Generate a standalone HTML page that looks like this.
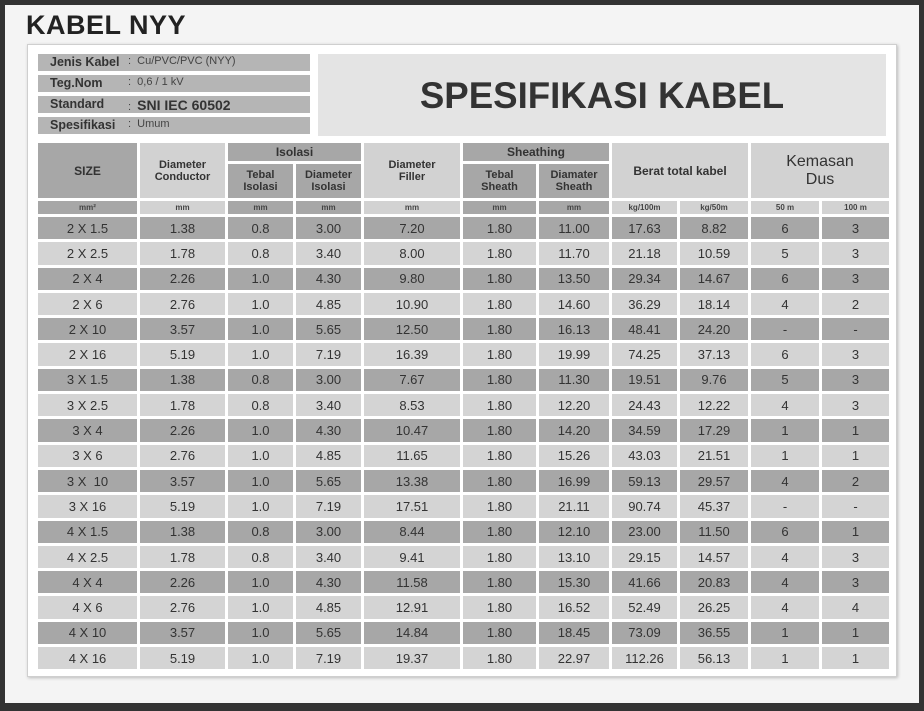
<!DOCTYPE html>
<html><head><meta charset="utf-8"><style>
*{margin:0;padding:0;box-sizing:border-box}
body{width:924px;height:711px;background:#333;font-family:"Liberation Sans",Arial,sans-serif;color:#333;position:relative;overflow:hidden}
#bg{position:absolute;left:5px;top:5px;width:914px;height:698px;background:#f4f4f4}
#panel{position:absolute;left:27px;top:44px;width:870px;height:633px;background:#fff;border:1px solid #cfcfcf;box-shadow:1px 1px 3px #bbb}
h1{position:absolute;left:26px;top:10px;font-size:27px;font-weight:bold;color:#222;letter-spacing:0.5px}
.info{position:absolute;left:38px;width:272px;height:17px;background:#b5b5b5;font-size:12px}
.info b{position:absolute;left:12px;top:1px;font-size:12.5px;color:#333}
.info span{position:absolute;left:90px;top:1px;font-size:11px;color:#444}
#title{position:absolute;left:318px;top:54px;width:568px;height:82px;background:#e4e4e4}
#title div{position:absolute;left:0;width:100%;top:21px;text-align:center;font-size:37px;font-weight:bold;color:#333;transform:scaleX(0.99)}
table{position:absolute;left:35px;top:140px;border-collapse:separate;border-spacing:3px;table-layout:fixed}
td{text-align:center;vertical-align:middle;padding:0}
.d{background:#a7a7a7}.l{background:#d2d2d2}
.hd td{font-weight:bold;font-size:11px;color:#333;line-height:12px}
.u td{font-size:8px;height:13px;font-weight:bold;color:#444}
.r td{height:22.3px;font-size:13px;color:#333}
.r.a td{background:#a7a7a7}.r.b td{background:#d4d4d4}
</style></head><body>
<div id="bg"></div>
<h1>KABEL NYY</h1>
<div id="panel"></div>
<div class="info" style="top:54px"><b>Jenis Kabel</b><span>: &nbsp;Cu/PVC/PVC (NYY)</span></div>
<div class="info" style="top:75px"><b>Teg.Nom</b><span>: &nbsp;0,6 / 1 kV</span></div>
<div class="info" style="top:96px"><b>Standard</b><span>: &nbsp;<b style="position:static;font-size:14px">SNI IEC 60502</b></span></div>
<div class="info" style="top:117px"><b>Spesifikasi</b><span>: &nbsp;Umum</span></div>
<div id="title"><div>SPESIFIKASI KABEL</div></div>
<table>
<colgroup><col style="width:99px"><col style="width:85px"><col style="width:65px"><col style="width:65px"><col style="width:96px"><col style="width:73px"><col style="width:70px"><col style="width:65px"><col style="width:68px"><col style="width:68px"><col style="width:67px"></colgroup>
<tr class="hd"><td class="d" rowspan="2" style="font-size:12px">SIZE</td><td class="l" rowspan="2">Diameter<br>Conductor</td><td class="d" colspan="2" style="height:18px;font-size:12px">Isolasi</td><td class="l" rowspan="2">Diameter<br>Filler</td><td class="d" colspan="2" style="font-size:12px">Sheathing</td><td class="l" colspan="2" rowspan="2" style="font-size:12px">Berat total kabel</td><td class="l" colspan="2" rowspan="2" style="font-size:16px;font-weight:normal;line-height:18px">Kemasan<br>Dus</td></tr>
<tr class="hd"><td class="d" style="height:34px">Tebal<br>Isolasi</td><td class="d">Diameter<br>Isolasi</td><td class="d">Tebal<br>Sheath</td><td class="d">Diamater<br>Sheath</td></tr>
<tr class="u"><td class="d">mm²</td><td class="l">mm</td><td class="d">mm</td><td class="d">mm</td><td class="l">mm</td><td class="d">mm</td><td class="d">mm</td><td class="l">kg/100m</td><td class="l">kg/50m</td><td class="l">50 m</td><td class="l">100 m</td></tr>
<tr class="r a"><td>2 X 1.5</td><td>1.38</td><td>0.8</td><td>3.00</td><td>7.20</td><td>1.80</td><td>11.00</td><td>17.63</td><td>8.82</td><td>6</td><td>3</td></tr>
<tr class="r b"><td>2 X 2.5</td><td>1.78</td><td>0.8</td><td>3.40</td><td>8.00</td><td>1.80</td><td>11.70</td><td>21.18</td><td>10.59</td><td>5</td><td>3</td></tr>
<tr class="r a"><td>2 X 4</td><td>2.26</td><td>1.0</td><td>4.30</td><td>9.80</td><td>1.80</td><td>13.50</td><td>29.34</td><td>14.67</td><td>6</td><td>3</td></tr>
<tr class="r b"><td>2 X 6</td><td>2.76</td><td>1.0</td><td>4.85</td><td>10.90</td><td>1.80</td><td>14.60</td><td>36.29</td><td>18.14</td><td>4</td><td>2</td></tr>
<tr class="r a"><td>2 X 10</td><td>3.57</td><td>1.0</td><td>5.65</td><td>12.50</td><td>1.80</td><td>16.13</td><td>48.41</td><td>24.20</td><td>-</td><td>-</td></tr>
<tr class="r b"><td>2 X 16</td><td>5.19</td><td>1.0</td><td>7.19</td><td>16.39</td><td>1.80</td><td>19.99</td><td>74.25</td><td>37.13</td><td>6</td><td>3</td></tr>
<tr class="r a"><td>3 X 1.5</td><td>1.38</td><td>0.8</td><td>3.00</td><td>7.67</td><td>1.80</td><td>11.30</td><td>19.51</td><td>9.76</td><td>5</td><td>3</td></tr>
<tr class="r b"><td>3 X 2.5</td><td>1.78</td><td>0.8</td><td>3.40</td><td>8.53</td><td>1.80</td><td>12.20</td><td>24.43</td><td>12.22</td><td>4</td><td>3</td></tr>
<tr class="r a"><td>3 X 4</td><td>2.26</td><td>1.0</td><td>4.30</td><td>10.47</td><td>1.80</td><td>14.20</td><td>34.59</td><td>17.29</td><td>1</td><td>1</td></tr>
<tr class="r b"><td>3 X 6</td><td>2.76</td><td>1.0</td><td>4.85</td><td>11.65</td><td>1.80</td><td>15.26</td><td>43.03</td><td>21.51</td><td>1</td><td>1</td></tr>
<tr class="r a"><td>3 X &nbsp;10</td><td>3.57</td><td>1.0</td><td>5.65</td><td>13.38</td><td>1.80</td><td>16.99</td><td>59.13</td><td>29.57</td><td>4</td><td>2</td></tr>
<tr class="r b"><td>3 X 16</td><td>5.19</td><td>1.0</td><td>7.19</td><td>17.51</td><td>1.80</td><td>21.11</td><td>90.74</td><td>45.37</td><td>-</td><td>-</td></tr>
<tr class="r a"><td>4 X 1.5</td><td>1.38</td><td>0.8</td><td>3.00</td><td>8.44</td><td>1.80</td><td>12.10</td><td>23.00</td><td>11.50</td><td>6</td><td>1</td></tr>
<tr class="r b"><td>4 X 2.5</td><td>1.78</td><td>0.8</td><td>3.40</td><td>9.41</td><td>1.80</td><td>13.10</td><td>29.15</td><td>14.57</td><td>4</td><td>3</td></tr>
<tr class="r a"><td>4 X 4</td><td>2.26</td><td>1.0</td><td>4.30</td><td>11.58</td><td>1.80</td><td>15.30</td><td>41.66</td><td>20.83</td><td>4</td><td>3</td></tr>
<tr class="r b"><td>4 X 6</td><td>2.76</td><td>1.0</td><td>4.85</td><td>12.91</td><td>1.80</td><td>16.52</td><td>52.49</td><td>26.25</td><td>4</td><td>4</td></tr>
<tr class="r a"><td>4 X 10</td><td>3.57</td><td>1.0</td><td>5.65</td><td>14.84</td><td>1.80</td><td>18.45</td><td>73.09</td><td>36.55</td><td>1</td><td>1</td></tr>
<tr class="r b"><td>4 X 16</td><td>5.19</td><td>1.0</td><td>7.19</td><td>19.37</td><td>1.80</td><td>22.97</td><td>112.26</td><td>56.13</td><td>1</td><td>1</td></tr>
</table>
</body></html>
